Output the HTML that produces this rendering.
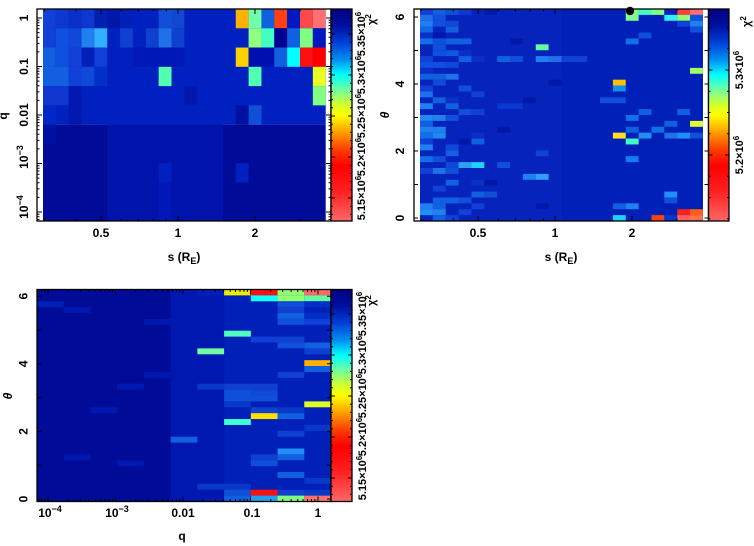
<!DOCTYPE html>
<html><head><meta charset="utf-8"><style>
html,body{margin:0;padding:0;background:#fff;}
svg{display:block;}
text{font-family:"Liberation Sans",sans-serif;font-weight:bold;fill:#000;}
</style></head><body>
<svg width="754" height="546" viewBox="0 0 754 546" xmlns="http://www.w3.org/2000/svg">
<defs>
<linearGradient id="cb" x1="0" y1="0" x2="0" y2="1">
<stop offset="0" stop-color="#000080"/>
<stop offset="0.08" stop-color="#0010a0"/>
<stop offset="0.16" stop-color="#0040d8"/>
<stop offset="0.24" stop-color="#0090f0"/>
<stop offset="0.31" stop-color="#00ffff"/>
<stop offset="0.38" stop-color="#70ffa0"/>
<stop offset="0.45" stop-color="#d0ff30"/>
<stop offset="0.50" stop-color="#ffff00"/>
<stop offset="0.58" stop-color="#ffa000"/>
<stop offset="0.66" stop-color="#ff4000"/>
<stop offset="0.74" stop-color="#ff0000"/>
<stop offset="0.86" stop-color="#ff2020"/>
<stop offset="1" stop-color="#ff6868"/>
</linearGradient>
<path id="p1y" d="M0 18h5M0 66.5h5M0 115h5M0 163.5h5M0 212h5M0 20.2h2.5M0 22.7h2.5M0 25.5h2.5M0 28.8h2.5M0 32.6h2.5M0 37.3h2.5M0 43.4h2.5M0 51.9h2.5M0 68.7h2.5M0 71.2h2.5M0 74h2.5M0 77.3h2.5M0 81.1h2.5M0 85.8h2.5M0 91.9h2.5M0 100.4h2.5M0 117.2h2.5M0 119.7h2.5M0 122.5h2.5M0 125.8h2.5M0 129.6h2.5M0 134.3h2.5M0 140.4h2.5M0 148.9h2.5M0 165.7h2.5M0 168.2h2.5M0 171h2.5M0 174.3h2.5M0 178.1h2.5M0 182.8h2.5M0 188.9h2.5M0 197.4h2.5M0 214.2h2.5M0 216.7h2.5M0 219.5h2.5" stroke="#000" stroke-width="1" fill="none"/>
<path id="p1x" d="M101 0v5M178 0v5M255 0v5M44.2 0v2.5M76.2 0v2.5M121.3 0v2.5M138.4 0v2.5M153.2 0v2.5M166.3 0v2.5M300 0v2.5" stroke="#000" stroke-width="1" fill="none"/>
<path id="p2y" d="M0 218h4M0 184.5h4M0 151h4M0 117.5h4M0 84h4M0 50.5h4M0 17h4" stroke="#000" stroke-width="1" fill="none"/>
<path id="p3y" d="M0 499h4M0 465.2h4M0 431.4h4M0 397.6h4M0 363.8h4M0 330h4M0 296.2h4" stroke="#000" stroke-width="1" fill="none"/>
<path id="p3x" d="M48 0v5M115.5 0v5M183 0v5M250.5 0v5M318 0v5M37.5 0v2.5M41.5 0v2.5M44.9 0v2.5M68.3 0v2.5M80.2 0v2.5M88.6 0v2.5M95.2 0v2.5M100.5 0v2.5M105 0v2.5M109 0v2.5M112.4 0v2.5M135.8 0v2.5M147.7 0v2.5M156.1 0v2.5M162.7 0v2.5M168 0v2.5M172.5 0v2.5M176.5 0v2.5M179.9 0v2.5M203.3 0v2.5M215.2 0v2.5M223.6 0v2.5M230.2 0v2.5M235.5 0v2.5M240 0v2.5M244 0v2.5M247.4 0v2.5M270.8 0v2.5M282.7 0v2.5M291.1 0v2.5M297.7 0v2.5M303 0v2.5M307.5 0v2.5M311.5 0v2.5M314.9 0v2.5" stroke="#000" stroke-width="1" fill="none"/>
<path id="c1t" d="M0 34h4M0 75h4M0 116h4M0 157h4M0 198h4M0 17.6h2M0 25.8h2M0 42.2h2M0 50.4h2M0 58.6h2M0 66.8h2M0 83.2h2M0 91.4h2M0 99.6h2M0 107.8h2M0 124.2h2M0 132.4h2M0 140.6h2M0 148.8h2M0 165.2h2M0 173.4h2M0 181.6h2M0 189.8h2M0 206.2h2M0 214.4h2" stroke="#000" stroke-width="1" fill="none"/>
<path id="c2t" d="M0 70h4M0 155h4M0 27.5h2M0 48.75h2M0 91.25h2M0 112.5h2M0 133.75h2M0 176.25h2M0 197.5h2M0 218.75h2" stroke="#000" stroke-width="1" fill="none"/>
</defs>

<!-- ===== Panel 1 heatmap ===== -->
<g transform="translate(43,9) scale(12.85,19.27)">
<rect x="0" y="0" width="22" height="6" fill="#0020c0"/>
<rect x="0" y="6" width="22" height="5" fill="#000c98"/>
<rect x="5" y="6" width="9" height="5" fill="#0014ac"/>
<rect x="0" y="0" width="1" height="1" fill="#1040d8"/><rect x="1" y="0" width="1" height="1" fill="#0c38d0"/><rect x="2" y="0" width="1" height="1" fill="#0a30c8"/><rect x="3" y="0" width="1" height="1" fill="#0c38d0"/><rect x="4" y="0" width="1" height="1" fill="#0020b0"/><rect x="5" y="0" width="1" height="1" fill="#0018a8"/><rect x="6" y="0" width="1" height="1" fill="#0020b8"/><rect x="9" y="0" width="1" height="1" fill="#1050d8"/><rect x="10" y="0" width="1" height="1" fill="#1048d0"/><rect x="15" y="0" width="1" height="1" fill="#ffb000"/><rect x="16" y="0" width="1" height="1" fill="#70ffa8"/><rect x="17" y="0" width="1" height="1" fill="#1060e0"/><rect x="18" y="0" width="1" height="1" fill="#ff4010"/><rect x="19" y="0" width="1" height="1" fill="#0018c0"/><rect x="20" y="0" width="1" height="1" fill="#ff4848"/><rect x="21" y="0" width="1" height="1" fill="#ff7070"/>
<rect x="0" y="1" width="1" height="1" fill="#1040d8"/><rect x="1" y="1" width="1" height="1" fill="#1050e0"/><rect x="2" y="1" width="1" height="1" fill="#1048d8"/><rect x="3" y="1" width="1" height="1" fill="#2080f0"/><rect x="4" y="1" width="1" height="1" fill="#30b0ff"/><rect x="6" y="1" width="1" height="1" fill="#1040d0"/><rect x="8" y="1" width="1" height="1" fill="#1040d0"/><rect x="9" y="1" width="1" height="1" fill="#2070e8"/><rect x="10" y="1" width="1" height="1" fill="#1040d0"/><rect x="16" y="1" width="1" height="1" fill="#90ff80"/><rect x="17" y="1" width="1" height="1" fill="#40ffc0"/><rect x="18" y="1" width="1" height="1" fill="#000090"/><rect x="19" y="1" width="1" height="1" fill="#1060e0"/><rect x="20" y="1" width="1" height="1" fill="#80ff80"/><rect x="21" y="1" width="1" height="1" fill="#0018c0"/>
<rect x="0" y="2" width="1" height="1" fill="#1060e0"/><rect x="1" y="2" width="1" height="1" fill="#1050e0"/><rect x="2" y="2" width="1" height="1" fill="#1040d8"/><rect x="3" y="2" width="1" height="1" fill="#0020b8"/><rect x="4" y="2" width="1" height="1" fill="#1040d8"/><rect x="7" y="2" width="4" height="1" fill="#0018b8"/><rect x="15" y="2" width="1" height="1" fill="#ffd000"/><rect x="16" y="2" width="2" height="1" fill="#0010b0"/><rect x="18" y="2" width="1" height="1" fill="#1060e0"/><rect x="19" y="2" width="1" height="1" fill="#00ffff"/><rect x="20" y="2" width="1" height="1" fill="#ff1010"/><rect x="21" y="2" width="1" height="1" fill="#ff0000"/>
<rect x="0" y="3" width="2" height="1" fill="#1060e0"/><rect x="2" y="3" width="1" height="1" fill="#1040d8"/><rect x="3" y="3" width="1" height="1" fill="#1048d8"/><rect x="4" y="3" width="1" height="1" fill="#0030c8"/><rect x="9" y="3" width="1" height="1" fill="#50ffb0"/><rect x="16" y="3" width="1" height="1" fill="#50ffb0"/><rect x="21" y="3" width="1" height="1" fill="#e8ff20"/>
<rect x="0" y="4" width="2" height="1" fill="#1038d0"/><rect x="2" y="4" width="1" height="1" fill="#0018b0"/><rect x="11" y="4" width="1" height="1" fill="#0018b0"/><rect x="21" y="4" width="1" height="1" fill="#80ff80"/>
<rect x="0" y="5" width="1" height="1" fill="#0028c8"/><rect x="2" y="5" width="1" height="1" fill="#0018b0"/><rect x="15" y="5" width="1" height="1" fill="#0010a0"/><rect x="16" y="5" width="1" height="1" fill="#1050d8"/>
<rect x="0" y="6" width="1" height="1" fill="#0010a0"/>
<rect x="9" y="8" width="1" height="1" fill="#0020c0"/><rect x="15" y="8" width="1" height="1" fill="#0020c0"/>
<rect x="9" y="9" width="1" height="2" fill="#0018b8"/>
</g>
<rect x="37" y="9" width="294" height="212" fill="none" stroke="#000" stroke-width="1.3"/>
<use href="#p1y" transform="translate(37,0)"/>
<use href="#p1y" transform="translate(331,0) scale(-1,1)"/>
<use href="#p1x" transform="translate(0,9)"/>
<use href="#p1x" transform="translate(0,221) scale(1,-1)"/>
<rect x="331" y="9" width="21" height="212" fill="url(#cb)" stroke="#000" stroke-width="1.3"/>
<use href="#c1t" transform="translate(331,0)"/>
<use href="#c1t" transform="translate(352,0) scale(-1,1)"/>

<!-- Panel 1 labels -->
<text font-size="12" text-anchor="middle" transform="translate(28,18) rotate(-90)">1</text>
<text font-size="12" text-anchor="middle" transform="translate(28,66.5) rotate(-90)">0.1</text>
<text font-size="12" text-anchor="middle" transform="translate(28,115) rotate(-90)">0.01</text>
<text font-size="12" text-anchor="middle" transform="translate(28,157) rotate(-90)">10<tspan dy="-5" font-size="9">−3</tspan></text>
<text font-size="12" text-anchor="middle" transform="translate(28,207) rotate(-90)">10<tspan dy="-5" font-size="9">−4</tspan></text>
<text font-size="12" text-anchor="middle" transform="translate(7,116) rotate(-90)">q</text>
<text font-size="12" text-anchor="middle" x="101" y="237">0.5</text>
<text font-size="12" text-anchor="middle" x="178" y="237">1</text>
<text font-size="12" text-anchor="middle" x="255" y="237">2</text>
<text font-size="12" text-anchor="middle" x="184" y="261">s (R<tspan dy="3" font-size="9">E</tspan><tspan dy="-3">)</tspan></text>
<text font-size="11" text-anchor="middle" transform="translate(365,198) rotate(-90)">5.15×10<tspan dy="-4" font-size="8">6</tspan></text>
<text font-size="11" text-anchor="middle" transform="translate(365,157) rotate(-90)">5.2×10<tspan dy="-4" font-size="8">6</tspan></text>
<text font-size="11" text-anchor="middle" transform="translate(365,116) rotate(-90)">5.25×10<tspan dy="-4" font-size="8">6</tspan></text>
<text font-size="11" text-anchor="middle" transform="translate(365,75) rotate(-90)">5.3×10<tspan dy="-4" font-size="8">6</tspan></text>
<text font-size="11" text-anchor="middle" transform="translate(365,34) rotate(-90)">5.35×10<tspan dy="-4" font-size="8">6</tspan></text>
<text font-size="11" transform="translate(375,25) rotate(-90)">χ<tspan dy="-4" font-size="8">2</tspan></text>

<!-- ===== Panel 2 heatmap ===== -->
<g transform="translate(420,9) scale(12.86,5.889)">
<rect width="22" height="36" fill="#0624bc"/>
<rect x="11" width="11" height="36" fill="#0020b8"/>
<rect x="0" y="0" width="1" height="1" fill="#1040d8"/><rect x="1" y="0" width="1" height="1" fill="#1060e0"/><rect x="2" y="0" width="1" height="1" fill="#1050d8"/><rect x="3" y="0" width="1" height="1" fill="#0c38d0"/><rect x="5" y="0" width="1" height="1" fill="#0018a8"/>
<rect x="0" y="1" width="1" height="1" fill="#2070e8"/><rect x="1" y="1" width="1" height="1" fill="#1050d8"/>
<rect x="0" y="2" width="1" height="1" fill="#2080f0"/><rect x="1" y="2" width="1" height="1" fill="#1050e0"/><rect x="2" y="2" width="1" height="1" fill="#1048d8"/>
<rect x="0" y="3" width="1" height="1" fill="#1068e8"/><rect x="2" y="3" width="1" height="1" fill="#1060e0"/>
<rect x="0" y="4" width="1" height="1" fill="#0a30c8"/><rect x="1" y="4" width="1" height="1" fill="#0018b0"/>
<rect x="0" y="5" width="1" height="1" fill="#1070e8"/><rect x="1" y="5" width="1" height="1" fill="#1050d8"/><rect x="2" y="5" width="2" height="1" fill="#1060e0"/><rect x="7" y="5" width="1" height="1" fill="#0018a8"/>
<rect x="1" y="6" width="1" height="1" fill="#1050d8"/><rect x="9" y="6" width="1" height="1" fill="#60ffa0"/>
<rect x="1" y="7" width="1" height="1" fill="#1050e0"/><rect x="2" y="7" width="1" height="1" fill="#1058e0"/><rect x="3" y="7" width="1" height="1" fill="#0a30c8"/>
<rect x="0" y="8" width="1" height="1" fill="#1040d8"/><rect x="3" y="8" width="1" height="1" fill="#1060e0"/><rect x="4" y="8" width="1" height="1" fill="#0a30c8"/><rect x="6" y="8" width="1" height="1" fill="#1060e0"/><rect x="7" y="8" width="1" height="1" fill="#1050d8"/><rect x="9" y="8" width="1" height="1" fill="#2080f0"/><rect x="10" y="8" width="1" height="1" fill="#2070e8"/><rect x="11" y="8" width="2" height="1" fill="#1040d8"/>
<rect x="0" y="9" width="2" height="1" fill="#1050e0"/><rect x="2" y="9" width="1" height="1" fill="#1048d8"/>
<rect x="0" y="10" width="1" height="1" fill="#0a30c8"/>
<rect x="0" y="11" width="2" height="1" fill="#1060e0"/><rect x="2" y="11" width="1" height="1" fill="#2070e8"/>
<rect x="1" y="12" width="1" height="1" fill="#1048d8"/><rect x="10" y="12" width="1" height="1" fill="#0018a8"/>
<rect x="0" y="13" width="1" height="1" fill="#1040d8"/><rect x="3" y="13" width="1" height="1" fill="#1050d8"/>
<rect x="0" y="14" width="1" height="1" fill="#2070e8"/><rect x="4" y="14" width="1" height="1" fill="#1040d8"/>
<rect x="1" y="15" width="1" height="1" fill="#1060e0"/><rect x="2" y="15" width="1" height="1" fill="#0a30c8"/><rect x="8" y="15" width="1" height="1" fill="#0018a8"/>
<rect x="0" y="16" width="1" height="1" fill="#2080f0"/><rect x="2" y="16" width="1" height="1" fill="#1060e0"/><rect x="6" y="16" width="2" height="1" fill="#0a38d0"/>
<rect x="3" y="17" width="1" height="1" fill="#1050d8"/><rect x="4" y="17" width="1" height="1" fill="#1040d8"/>
<rect x="0" y="18" width="1" height="1" fill="#2088f0"/><rect x="1" y="18" width="1" height="1" fill="#2080f0"/><rect x="2" y="18" width="1" height="1" fill="#1050d8"/>
<rect x="0" y="19" width="1" height="1" fill="#1060e0"/>
<rect x="0" y="20" width="2" height="1" fill="#2080f0"/><rect x="6" y="20" width="1" height="1" fill="#0018a8"/>
<rect x="0" y="21" width="1" height="1" fill="#1070e8"/><rect x="1" y="21" width="1" height="1" fill="#2088f0"/><rect x="4" y="21" width="1" height="1" fill="#0a30c8"/>
<rect x="0" y="22" width="1" height="1" fill="#1040d8"/><rect x="4" y="22" width="1" height="1" fill="#1060e0"/><rect x="3" y="22" width="1" height="1" fill="#0018a8"/>
<rect x="0" y="23" width="1" height="1" fill="#2080f0"/><rect x="2" y="23" width="1" height="1" fill="#1048d8"/>
<rect x="2" y="24" width="1" height="1" fill="#1060e0"/><rect x="9" y="24" width="1" height="1" fill="#1040d8"/>
<rect x="0" y="25" width="1" height="1" fill="#1070e8"/><rect x="1" y="25" width="1" height="1" fill="#1050d8"/>
<rect x="2" y="26" width="1" height="1" fill="#1048d8"/><rect x="3" y="26" width="1" height="1" fill="#30a0f0"/><rect x="4" y="26" width="1" height="1" fill="#20d0ff"/><rect x="6" y="26" width="1" height="1" fill="#1050e0"/>
<rect x="0" y="27" width="1" height="1" fill="#1040d8"/><rect x="1" y="27" width="1" height="1" fill="#2070e8"/><rect x="2" y="27" width="1" height="1" fill="#1050d8"/>
<rect x="8" y="28" width="1" height="1" fill="#2080f0"/><rect x="9" y="28" width="1" height="1" fill="#30a0ff"/>
<rect x="2" y="29" width="1" height="1" fill="#1060e0"/><rect x="4" y="29" width="1" height="1" fill="#0a30c8"/><rect x="5" y="29" width="1" height="1" fill="#0018a8"/>
<rect x="1" y="30" width="1" height="1" fill="#1040d8"/>
<rect x="4" y="31" width="1" height="1" fill="#1060e0"/><rect x="5" y="31" width="1" height="1" fill="#1050d8"/>
<rect x="1" y="32" width="2" height="1" fill="#1060e0"/><rect x="3" y="32" width="1" height="1" fill="#1050d8"/>
<rect x="0" y="33" width="1" height="1" fill="#2080f0"/><rect x="1" y="33" width="1" height="1" fill="#1060e0"/><rect x="4" y="33" width="1" height="1" fill="#1040d8"/><rect x="9" y="33" width="1" height="1" fill="#0018a8"/>
<rect x="0" y="34" width="1" height="1" fill="#2090f8"/><rect x="1" y="34" width="1" height="1" fill="#2080f0"/><rect x="3" y="34" width="1" height="1" fill="#1040d8"/>
<rect x="1" y="35" width="1" height="1" fill="#1060e0"/><rect x="2" y="35" width="1" height="1" fill="#1040d8"/>
<rect x="16" y="0" width="1" height="2" fill="#80ff90"/><rect x="17" y="0" width="1" height="1" fill="#40ffc0"/><rect x="18" y="0" width="1" height="1" fill="#80ff80"/><rect x="19" y="0" width="1" height="1" fill="#0020c0"/><rect x="20" y="0" width="1" height="1" fill="#ff4040"/><rect x="21" y="0" width="1" height="1" fill="#ff7070"/>
<rect x="19" y="1" width="1" height="1" fill="#30f0ff"/><rect x="20" y="1" width="1" height="1" fill="#90ff70"/><rect x="21" y="1" width="1" height="1" fill="#1050e0"/>
<rect x="20" y="2" width="1" height="1" fill="#1040d8"/><rect x="21" y="2" width="1" height="1" fill="#2080f0"/>
<rect x="21" y="3" width="1" height="1" fill="#1050d8"/>
<rect x="17" y="4" width="1" height="1" fill="#1050d8"/>
<rect x="16" y="5" width="1" height="1" fill="#1070e8"/>
<rect x="21" y="10" width="1" height="1" fill="#a0ff60"/>
<rect x="15" y="12" width="1" height="1" fill="#ffc000"/><rect x="15" y="13" width="1" height="1" fill="#1090f0"/>
<rect x="14" y="15" width="2" height="1" fill="#1050d8"/>
<rect x="17" y="17" width="1" height="1" fill="#1060e0"/><rect x="20" y="17" width="1" height="1" fill="#1060e0"/>
<rect x="16" y="18" width="1" height="1" fill="#1070e8"/>
<rect x="19" y="19" width="1" height="1" fill="#1060e0"/><rect x="21" y="19" width="1" height="1" fill="#e8ff30"/>
<rect x="16" y="20" width="1" height="1" fill="#1060e0"/><rect x="18" y="20" width="1" height="1" fill="#1070e8"/>
<rect x="15" y="21" width="1" height="1" fill="#ffe020"/><rect x="17" y="21" width="1" height="1" fill="#2090f0"/><rect x="19" y="21" width="1" height="1" fill="#2070e8"/><rect x="20" y="21" width="1" height="1" fill="#2090f8"/><rect x="21" y="21" width="1" height="1" fill="#1050d8"/>
<rect x="16" y="22" width="1" height="1" fill="#40ffc0"/>
<rect x="16" y="25" width="1" height="1" fill="#1080f0"/>
<rect x="19" y="31" width="1" height="1" fill="#2090f8"/><rect x="19" y="32" width="1" height="1" fill="#1050d8"/>
<rect x="15" y="33" width="1" height="1" fill="#1060e0"/><rect x="16" y="33" width="1" height="1" fill="#2080f0"/>
<rect x="20" y="34" width="1" height="1" fill="#ff2020"/><rect x="21" y="34" width="1" height="1" fill="#ff6010"/>
<rect x="15" y="35" width="1" height="1" fill="#20d0ff"/><rect x="18" y="35" width="1" height="1" fill="#ff4010"/><rect x="19" y="35" width="1" height="1" fill="#0038d0"/><rect x="20" y="35" width="1" height="1" fill="#ff6060"/><rect x="21" y="35" width="1" height="1" fill="#ff7050"/>
</g>
<rect x="414" y="9" width="294.5" height="212" fill="none" stroke="#000" stroke-width="1.3"/>
<use href="#p2y" transform="translate(414,0)"/>
<use href="#p2y" transform="translate(708.5,0) scale(-1,1)"/>
<use href="#p1x" transform="translate(377,9)"/>
<use href="#p1x" transform="translate(377,221) scale(1,-1)"/>
<rect x="708.5" y="9" width="20.5" height="212" fill="url(#cb)" stroke="#000" stroke-width="1.3"/>
<use href="#c2t" transform="translate(708.5,0)"/>
<use href="#c2t" transform="translate(729,0) scale(-1,1)"/>
<circle cx="630" cy="11" r="4.2" fill="#000"/>

<!-- Panel 2 labels -->
<text font-size="12" text-anchor="middle" transform="translate(404,218) rotate(-90)">0</text>
<text font-size="12" text-anchor="middle" transform="translate(404,151) rotate(-90)">2</text>
<text font-size="12" text-anchor="middle" transform="translate(404,84) rotate(-90)">4</text>
<text font-size="12" text-anchor="middle" transform="translate(404,17) rotate(-90)">6</text>
<text font-size="12" font-style="italic" text-anchor="middle" transform="translate(389,115) rotate(-90)">θ</text>
<text font-size="12" text-anchor="middle" x="478" y="237">0.5</text>
<text font-size="12" text-anchor="middle" x="555" y="237">1</text>
<text font-size="12" text-anchor="middle" x="632" y="237">2</text>
<text font-size="12" text-anchor="middle" x="561" y="261">s (R<tspan dy="3" font-size="9">E</tspan><tspan dy="-3">)</tspan></text>
<text font-size="11" text-anchor="middle" transform="translate(743,155) rotate(-90)">5.2×10<tspan dy="-4" font-size="8">6</tspan></text>
<text font-size="11" text-anchor="middle" transform="translate(743,70) rotate(-90)">5.3×10<tspan dy="-4" font-size="8">6</tspan></text>
<text font-size="11" transform="translate(750,27) rotate(-90)">χ<tspan dy="-4" font-size="8">2</tspan></text>

<!-- ===== Panel 3 heatmap ===== -->
<g transform="translate(37,289.5) scale(26.73,5.889)">
<rect width="11" height="36" fill="#000c98"/>
<rect x="5" width="2" height="36" fill="#0018b0"/>
<rect x="7" width="4" height="36" fill="#0020b8"/>
<rect x="0" y="2" width="1" height="1" fill="#0020b8"/><rect x="1" y="3" width="1" height="1" fill="#0018b0"/><rect x="2" y="20" width="1" height="1" fill="#0018b0"/><rect x="3" y="16" width="1" height="1" fill="#0018b0"/><rect x="4" y="14" width="1" height="1" fill="#0018b0"/><rect x="1" y="28" width="1" height="1" fill="#0018b0"/><rect x="3" y="29" width="1" height="1" fill="#0018b0"/><rect x="4" y="5" width="1" height="1" fill="#0018b0"/>
<rect x="6" y="0" width="1" height="1" fill="#0020b8"/><rect x="7" y="0" width="1" height="1" fill="#e8f000"/><rect x="8" y="0" width="1" height="1" fill="#ff1010"/><rect x="9" y="0" width="1" height="1" fill="#90ff70"/><rect x="10" y="0" width="1" height="1" fill="#ff6868"/>
<rect x="8" y="1" width="1" height="1" fill="#10ffff"/><rect x="9" y="1" width="1" height="1" fill="#90ff70"/><rect x="10" y="1" width="1" height="1" fill="#60ffa0"/>
<rect x="9" y="2" width="1" height="1" fill="#1050d8"/><rect x="10" y="2" width="1" height="1" fill="#0030c8"/>
<rect x="9" y="3" width="1" height="1" fill="#1040d0"/>
<rect x="9" y="4" width="1" height="1" fill="#1060e0"/><rect x="10" y="4" width="1" height="1" fill="#0030c8"/>
<rect x="9" y="5" width="1" height="1" fill="#1050d8"/><rect x="10" y="5" width="1" height="1" fill="#1040d8"/>
<rect x="7" y="7" width="1" height="1" fill="#50ffc0"/>
<rect x="8" y="8" width="1" height="1" fill="#1040d8"/><rect x="9" y="8" width="1" height="1" fill="#1040d0"/>
<rect x="9" y="9" width="1" height="1" fill="#1050d8"/><rect x="10" y="9" width="1" height="1" fill="#1060e0"/>
<rect x="6" y="10" width="1" height="1" fill="#70ffa0"/><rect x="10" y="10" width="1" height="1" fill="#1040d0"/>
<rect x="10" y="12" width="1" height="1" fill="#ffb000"/>
<rect x="10" y="13" width="1" height="1" fill="#1060e0"/>
<rect x="9" y="14" width="1" height="1" fill="#1040d0"/>
<rect x="6" y="16" width="1" height="1" fill="#0838c8"/><rect x="7" y="16" width="2" height="1" fill="#1040d0"/>
<rect x="7" y="17" width="1" height="1" fill="#1050d8"/><rect x="8" y="17" width="1" height="1" fill="#1048d8"/>
<rect x="7" y="18" width="2" height="1" fill="#1050d8"/>
<rect x="7" y="19" width="1" height="1" fill="#0838c8"/><rect x="10" y="19" width="1" height="1" fill="#e0ff20"/>
<rect x="8" y="20" width="1" height="1" fill="#1040d0"/><rect x="9" y="20" width="1" height="1" fill="#0838c8"/>
<rect x="8" y="21" width="1" height="1" fill="#ffe000"/><rect x="9" y="21" width="1" height="1" fill="#1060e0"/>
<rect x="7" y="22" width="1" height="1" fill="#40ffd0"/>
<rect x="10" y="23" width="1" height="1" fill="#0838c8"/>
<rect x="9" y="24" width="1" height="1" fill="#1040d0"/>
<rect x="5" y="25" width="1" height="1" fill="#1060e0"/>
<rect x="9" y="27" width="1" height="1" fill="#2090f8"/>
<rect x="8" y="28" width="1" height="1" fill="#1040d0"/><rect x="9" y="28" width="1" height="1" fill="#1060e0"/>
<rect x="8" y="29" width="1" height="1" fill="#1050d8"/>
<rect x="9" y="31" width="1" height="1" fill="#1060e0"/>
<rect x="10" y="32" width="1" height="1" fill="#0838c8"/>
<rect x="6" y="33" width="2" height="1" fill="#0838c8"/>
<rect x="7" y="34" width="1" height="1" fill="#1050d8"/><rect x="8" y="34" width="1" height="1" fill="#ff1010"/><rect x="9" y="34" width="1" height="1" fill="#1040d0"/><rect x="10" y="34" width="1" height="1" fill="#0838c8"/>
<rect x="7" y="35" width="1" height="1" fill="#1060e0"/><rect x="8" y="35" width="1" height="1" fill="#20a0f0"/><rect x="9" y="35" width="1" height="1" fill="#80ff80"/><rect x="10" y="35" width="1" height="1" fill="#ff7070"/>
</g>
<rect x="37" y="289.5" width="294" height="212" fill="none" stroke="#000" stroke-width="1.3"/>
<use href="#p3y" transform="translate(37,0)"/>
<use href="#p3y" transform="translate(331,0) scale(-1,1)"/>
<use href="#p3x" transform="translate(0,289.5)"/>
<use href="#p3x" transform="translate(0,501.5) scale(1,-1)"/>
<rect x="331" y="289.5" width="21" height="212" fill="url(#cb)" stroke="#000" stroke-width="1.3"/>
<use href="#c1t" transform="translate(331,280)"/>
<use href="#c1t" transform="translate(352,280) scale(-1,1)"/>

<!-- Panel 3 labels -->
<text font-size="12" text-anchor="middle" transform="translate(27.5,499) rotate(-90)">0</text>
<text font-size="12" text-anchor="middle" transform="translate(27.5,431.4) rotate(-90)">2</text>
<text font-size="12" text-anchor="middle" transform="translate(27.5,363.8) rotate(-90)">4</text>
<text font-size="12" text-anchor="middle" transform="translate(27.5,296.2) rotate(-90)">6</text>
<text font-size="12" font-style="italic" text-anchor="middle" transform="translate(12,396) rotate(-90)">θ</text>
<text font-size="12" text-anchor="middle" x="50" y="517">10<tspan dy="-5" font-size="9">−4</tspan></text>
<text font-size="12" text-anchor="middle" x="117" y="517">10<tspan dy="-5" font-size="9">−3</tspan></text>
<text font-size="12" text-anchor="middle" x="183" y="517">0.01</text>
<text font-size="12" text-anchor="middle" x="252" y="517">0.1</text>
<text font-size="12" text-anchor="middle" x="318" y="517">1</text>
<text font-size="12" text-anchor="middle" x="182" y="540">q</text>
<text font-size="11" text-anchor="middle" transform="translate(366,478) rotate(-90)">5.15×10<tspan dy="-4" font-size="8">6</tspan></text>
<text font-size="11" text-anchor="middle" transform="translate(366,437) rotate(-90)">5.2×10<tspan dy="-4" font-size="8">6</tspan></text>
<text font-size="11" text-anchor="middle" transform="translate(366,396) rotate(-90)">5.25×10<tspan dy="-4" font-size="8">6</tspan></text>
<text font-size="11" text-anchor="middle" transform="translate(366,355) rotate(-90)">5.3×10<tspan dy="-4" font-size="8">6</tspan></text>
<text font-size="11" text-anchor="middle" transform="translate(366,314) rotate(-90)">5.35×10<tspan dy="-4" font-size="8">6</tspan></text>
<text font-size="11" transform="translate(375,306) rotate(-90)">χ<tspan dy="-4" font-size="8">2</tspan></text>
</svg>
</body></html>
